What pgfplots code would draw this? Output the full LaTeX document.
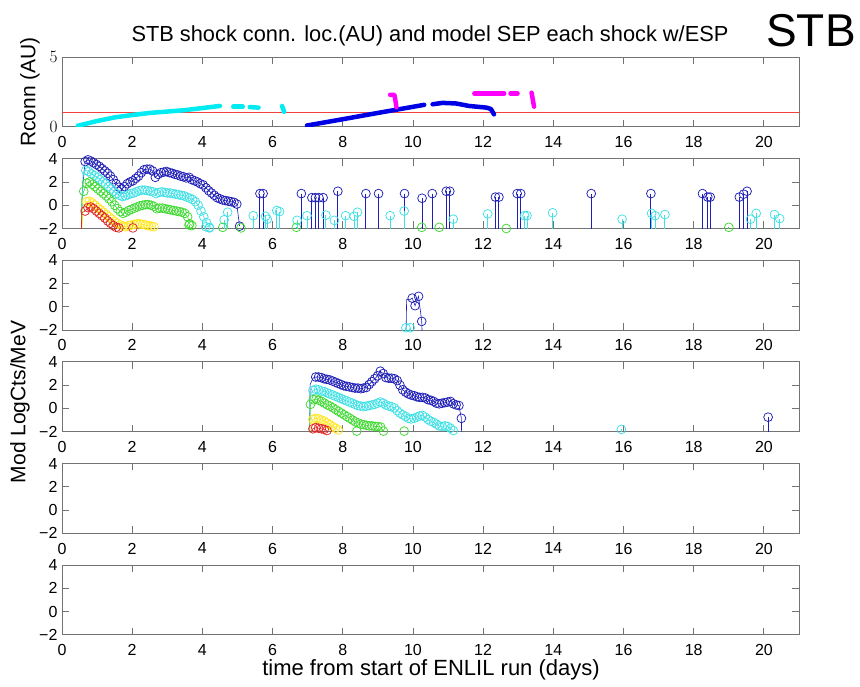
\documentclass[border=0pt]{standalone}
\usepackage{fontspec}
\setmainfont{Liberation Sans}
\usepackage{pgfplots}
\usepackage{pgfplotstable}
\pgfplotsset{compat=1.18}
\definecolor{axgray}{rgb}{0.45,0.45,0.45}
\definecolor{sblue}{rgb}{0.12,0.12,0.72}
\definecolor{scyan}{rgb}{0.25,0.88,0.90}
\definecolor{sgreen}{rgb}{0.25,0.85,0.20}
\definecolor{syellow}{rgb}{1.0,0.90,0.10}
\definecolor{sred}{rgb}{0.88,0.15,0.15}
\definecolor{lred}{rgb}{0.95,0.25,0.25}
\definecolor{rblue}{rgb}{0.0,0.0,0.90}
\definecolor{rcyan}{rgb}{0.0,0.92,0.95}
\definecolor{rmag}{rgb}{1.0,0.0,1.0}
% spike (stem) data
\pgfplotstableread{
x y
5.64 1.0
5.73 1.0
6.82 1.0
7.12 0.65
7.22 0.65
7.32 0.65
7.44 0.65
7.86 1.2
8.66 1.0
9.02 1.0
9.76 1.0
10.26 0.6
10.55 1.0
10.95 1.2
11.05 1.2
12.35 0.7
12.45 0.7
12.97 1.0
13.07 1.0
15.08 1.0
16.78 1.0
18.25 1.0
18.4 0.7
18.47 0.7
19.3 0.7
19.42 0.95
19.52 1.2
}\spkBtwo
\pgfplotstableread{
x y
4.1 -1.85
4.2 -1.95
4.62 -1.25
4.72 -0.6
5.45 -0.9
5.8 -0.95
5.85 -1.2
6.12 -0.45
6.2 -0.55
6.7 -1.3
6.98 -0.9
7.52 -0.85
7.76 -1.3
8.08 -0.9
8.32 -0.95
8.42 -0.6
9.35 -0.9
9.75 -0.5
11.15 -1.2
12.13 -0.75
13.18 -0.9
13.25 -0.9
13.98 -0.65
15.96 -1.2
16.8 -0.7
16.9 -0.9
17.18 -0.8
19.62 -1.2
19.78 -0.7
20.3 -0.8
20.45 -1.15
}\spkCtwo
\pgfplotstableread{
x y
3.62 -1.7
4.58 -1.9
5.1 -1.95
6.68 -1.9
10.25 -1.9
10.75 -1.9
12.66 -2.0
19.0 -1.9
}\spkGtwo
\pgfplotstableread{
x y
2.02 -1.95
}\spkRtwo
\pgfplotstableread{
x y
9.8 -1.8
9.92 -1.8
}\spkCthree
\pgfplotstableread{
x y
20.12 -0.75
}\spkBfour
\pgfplotstableread{
x y
15.94 -1.8
}\spkCfour
\pgfplotstableread{
x y
8.4 -1.95
9.75 -1.95
}\spkGfour
\pgfplotsset{
  panel/.style={scale only axis, width=737pt, height=69.8pt, anchor=south west,
    xmin=0, xmax=21, xtick={0,2,4,6,8,10,12,14,16,18,20},
    xticklabels={0,2,4,6,8,10,12,14,16,18,20},
    tick align=inside, major tick length=7pt,
    axis line style={draw=axgray, line width=0.9pt},
    tick style={draw=axgray, line width=0.9pt},
    ticklabel style={font=\fontsize{16}{16}\selectfont, text=black},
    xticklabel style={yshift=-6pt},
    yticklabel style={xshift=-1pt},
    clip=true},
  lpanel/.style={panel, ymin=-2, ymax=4, ytick={-2,0,2,4}, yticklabels={−2,0,2,4}},
  ser/.style={color=#1, mark=o, mark size=4.4pt, line width=0.6pt, mark options={line width=0.75pt, solid}, mark phase=2},
  stem/.style={draw=#1, line width=0.9pt, mark=none, quiver={u=0, v=-10}, -},
  spkm/.style={color=#1, only marks, mark=o, mark size=4.4pt, mark options={line width=0.75pt, draw=#1}},
  rc/.style={color=#1, line width=4.5pt, line cap=round, line join=round, mark=none}
}
\begin{document}
\begin{tikzpicture}
\path[use as bounding box] (0,0) rectangle (860pt,686pt);
\node at (430pt,650pt) {\fontsize{21.8}{22}\selectfont STB shock conn. loc.(AU) and model SEP each shock w/ESP};
\node at (811pt,655pt) {\fontsize{46}{46}\selectfont STB};
\node[rotate=90] at (30pt,594pt) {\fontsize{21}{21}\selectfont Rconn (AU)};
\node[rotate=90] at (20pt,284pt) {\fontsize{21}{21}\selectfont Mod LogCts/MeV};
\node at (431pt,16pt) {\fontsize{22}{22}\selectfont time from start of ENLIL run (days)};

% Panel 1
\begin{axis}[panel, at={(62pt,559.1pt)}, ymin=0, ymax=5, ytick={0,5}]
\addplot[draw=lred, line width=1pt, mark=none] coordinates {(0,1) (21,1)};
\addplot[rc=rcyan] coordinates {(0.45,0.08) (1.0,0.42) (1.5,0.68) (2.0,0.85) (2.5,1.0) (3.0,1.1) (3.5,1.2) (4.0,1.35) (4.5,1.5)};
\addplot[rc=rcyan] coordinates {(4.88,1.45) (5.15,1.45)};
\addplot[rc=rcyan] coordinates {(5.35,1.42) (5.6,1.38)};
\addplot[rc=rcyan] coordinates {(6.27,1.5) (6.33,1.08)};
\addplot[rc=rblue] coordinates {(6.98,0.1) (8.0,0.55) (9.0,1.0) (9.8,1.35) (10.32,1.58)};
\addplot[rc=rblue] coordinates {(10.56,1.62) (10.84,1.72) (11.22,1.68) (11.6,1.5) (12.1,1.38) (12.22,1.28) (12.31,0.9)};
\addplot[rc=rmag] coordinates {(9.35,2.3) (9.47,2.3) (9.5,1.9) (9.53,1.4)};
\addplot[rc=rmag] coordinates {(11.75,2.4) (12.6,2.4)};
\addplot[rc=rmag] coordinates {(12.78,2.4) (12.98,2.4)};
\addplot[rc=rmag] coordinates {(13.38,2.45) (13.45,1.45)};
\end{axis}

% Panel 2
\begin{axis}[lpanel, at={(62pt,457.5pt)}]
\addplot[ser=sblue] coordinates {(0.55,-3) (0.58,1.35) (0.66,3.75) (0.74,3.9) (0.82,3.8) (0.9,3.65) (0.98,3.5) (1.06,3.35) (1.14,3.15) (1.22,2.95) (1.3,2.75) (1.38,2.5) (1.46,2.2) (1.54,1.85) (1.62,1.55) (1.7,1.4) (1.78,1.6) (1.86,1.85) (1.94,2.0) (2.02,2.1) (2.1,2.3) (2.18,2.5) (2.26,2.8) (2.34,3.05) (2.42,3.1) (2.5,3.1) (2.58,2.95) (2.66,2.4) (2.74,2.65) (2.82,2.8) (2.9,2.85) (2.98,2.9) (3.06,2.8) (3.14,2.75) (3.22,2.65) (3.3,2.6) (3.38,2.5) (3.46,2.45) (3.54,2.35) (3.62,2.4) (3.7,2.2) (3.78,2.1) (3.86,2.0) (3.94,1.85) (4.02,1.75) (4.1,1.5) (4.18,1.25) (4.26,1.05) (4.34,0.85) (4.42,0.65) (4.5,0.55) (4.58,0.45) (4.66,0.4) (4.74,0.35) (4.82,0.3) (4.9,0.25) (4.98,0.1) (5.06,-1.8)};
\addplot[ser=scyan] coordinates {(0.55,-3) (0.6,2.8) (0.68,3.0) (0.76,2.9) (0.84,2.7) (0.92,2.55) (1.0,2.4) (1.08,2.2) (1.16,2.0) (1.24,1.85) (1.32,1.6) (1.4,1.4) (1.48,1.2) (1.56,1.0) (1.64,0.85) (1.72,0.75) (1.8,0.8) (1.88,0.9) (1.96,1.0) (2.04,1.05) (2.12,1.15) (2.2,1.25) (2.28,1.3) (2.36,1.3) (2.44,1.25) (2.52,1.2) (2.6,1.15) (2.68,1.0) (2.76,1.1) (2.84,1.15) (2.92,1.1) (3.0,1.05) (3.08,1.05) (3.16,1.0) (3.24,0.95) (3.32,0.9) (3.4,0.85) (3.48,0.8) (3.56,0.7) (3.64,0.6) (3.72,0.5) (3.8,0.3) (3.88,0.0) (3.96,-0.5) (4.04,-1.0) (4.12,-1.5) (4.2,-1.9)};
\addplot[ser=sgreen] coordinates {(0.55,-3) (0.56,0.6) (0.62,1.2) (0.7,1.9) (0.78,2.0) (0.86,1.8) (0.94,1.6) (1.02,1.4) (1.1,1.2) (1.18,1.0) (1.26,0.8) (1.34,0.55) (1.42,0.3) (1.5,0.0) (1.58,-0.3) (1.66,-0.55) (1.74,-0.7) (1.82,-0.6) (1.9,-0.45) (1.98,-0.35) (2.06,-0.25) (2.14,-0.15) (2.22,-0.05) (2.3,0.0) (2.38,0.05) (2.46,0.05) (2.54,0.0) (2.62,-0.1) (2.7,-0.3) (2.78,-0.25) (2.86,-0.25) (2.94,-0.3) (3.02,-0.35) (3.1,-0.4) (3.18,-0.45) (3.26,-0.5) (3.34,-0.55) (3.42,-0.6) (3.5,-0.7) (3.58,-1.0) (3.64,-1.6) (3.7,-1.75)};
\addplot[ser=syellow] coordinates {(0.55,-3) (0.6,-0.2) (0.7,0.3) (0.78,0.35) (0.86,0.2) (0.94,0.0) (1.02,-0.2) (1.1,-0.4) (1.18,-0.6) (1.26,-0.8) (1.34,-1.0) (1.42,-1.2) (1.5,-1.4) (1.58,-1.55) (1.66,-1.7) (1.74,-1.8) (1.82,-1.85) (1.9,-1.75) (1.98,-1.7) (2.06,-1.65) (2.14,-1.6) (2.22,-1.6) (2.3,-1.65) (2.38,-1.7) (2.46,-1.75) (2.54,-1.8) (2.62,-1.85)};
\addplot[ser=sred] coordinates {(0.55,-3) (0.56,-0.65) (0.66,-0.5) (0.74,-0.2) (0.82,-0.15) (0.9,-0.3) (0.98,-0.5) (1.06,-0.7) (1.14,-0.9) (1.22,-1.1) (1.3,-1.35) (1.38,-1.55) (1.46,-1.75) (1.54,-1.9) (1.62,-1.95)};
\addplot[stem=sblue] table {\spkBtwo};
\addplot[spkm=sblue] table {\spkBtwo};
\addplot[stem=scyan] table {\spkCtwo};
\addplot[spkm=scyan] table {\spkCtwo};
\addplot[stem=sgreen] table {\spkGtwo};
\addplot[spkm=sgreen] table {\spkGtwo};
\addplot[spkm=sred] table {\spkRtwo};
\end{axis}

% Panel 3
\begin{axis}[lpanel, at={(62pt,355.9pt)}]
\addplot[ser=sblue, mark indices={2,3,4,5,6,7}] coordinates {(9.8,-3) (9.82,0.65) (9.9,0.6) (9.98,0.75) (10.06,0.1) (10.16,0.9) (10.25,-1.25) (10.27,-3)};
\addplot[stem=scyan] table {\spkCthree};
\addplot[spkm=scyan] table {\spkCthree};
\end{axis}

% Panel 4
\begin{axis}[lpanel, at={(62pt,254.3pt)}]
\addplot[ser=sblue, mark indices={2,3,4,5,6,7,8,9,10,11,12,13,14,15,16,17,18,19,20,21,22,23,24,25,26,27,28,29,30,31,32,33,34,35,36,37,38,39,40,41,42,43,44,45,46,47,48,49,50,51,52,53,54,55,56}] coordinates {(7.05,-3) (7.07,2.05) (7.15,2.6) (7.23,2.7) (7.31,2.7) (7.39,2.65) (7.47,2.55) (7.55,2.5) (7.63,2.45) (7.71,2.35) (7.79,2.25) (7.87,2.15) (7.95,2.05) (8.03,1.95) (8.11,1.9) (8.19,1.85) (8.27,1.8) (8.35,1.75) (8.43,1.75) (8.51,1.7) (8.59,1.75) (8.67,1.8) (8.75,2.05) (8.83,2.3) (8.91,2.55) (8.99,2.8) (9.07,3.2) (9.15,3.0) (9.23,2.65) (9.31,2.6) (9.39,2.6) (9.47,2.55) (9.55,2.4) (9.63,2.0) (9.71,1.6) (9.79,1.4) (9.87,1.25) (9.95,1.15) (10.03,1.1) (10.11,1.0) (10.19,0.95) (10.27,0.95) (10.35,0.9) (10.43,0.75) (10.51,0.7) (10.59,0.6) (10.67,0.45) (10.75,0.4) (10.83,0.45) (10.91,0.5) (10.99,0.55) (11.07,0.6) (11.15,0.4) (11.23,0.3) (11.31,0.25) (11.38,-0.85) (11.39,-3)};
\addplot[ser=scyan] coordinates {(7.05,-3) (7.07,1.2) (7.15,1.55) (7.23,1.65) (7.31,1.6) (7.39,1.5) (7.47,1.45) (7.55,1.35) (7.63,1.25) (7.71,1.15) (7.79,1.05) (7.87,0.95) (7.95,0.85) (8.03,0.75) (8.11,0.65) (8.19,0.55) (8.27,0.45) (8.35,0.35) (8.43,0.25) (8.51,0.2) (8.59,0.15) (8.67,0.2) (8.75,0.25) (8.83,0.3) (8.91,0.35) (8.99,0.45) (9.07,0.55) (9.15,0.45) (9.23,0.3) (9.31,0.2) (9.39,0.15) (9.47,0.05) (9.55,-0.2) (9.63,-0.4) (9.71,-0.55) (9.79,-0.7) (9.87,-0.85) (9.95,-0.9) (10.03,-0.85) (10.11,-0.75) (10.19,-0.65) (10.27,-0.6) (10.35,-0.75) (10.43,-0.95) (10.51,-1.1) (10.59,-1.2) (10.67,-1.35) (10.75,-1.5) (10.83,-1.55) (10.91,-1.5) (10.99,-1.55) (11.07,-1.7) (11.15,-1.9)};
\addplot[ser=sgreen] coordinates {(7.05,-3) (7.07,-0.35) (7.08,0.35) (7.16,0.75) (7.24,0.8) (7.32,0.7) (7.4,0.6) (7.48,0.45) (7.56,0.3) (7.64,0.2) (7.72,0.05) (7.8,-0.1) (7.88,-0.25) (7.96,-0.4) (8.04,-0.55) (8.12,-0.7) (8.2,-0.85) (8.28,-1.0) (8.36,-1.15) (8.44,-1.25) (8.52,-1.35) (8.6,-1.4) (8.68,-1.45) (8.76,-1.5) (8.84,-1.5) (8.92,-1.55) (9.0,-1.55) (9.08,-1.6) (9.16,-1.95)};
\addplot[ser=syellow] coordinates {(7.05,-3) (7.07,-1.3) (7.15,-0.95) (7.23,-0.85) (7.31,-0.9) (7.39,-1.0) (7.47,-1.1) (7.55,-1.25) (7.63,-1.4) (7.71,-1.55) (7.79,-1.7) (7.87,-1.85)};
\addplot[ser=sred] coordinates {(7.05,-3) (7.07,-2.0) (7.15,-1.75) (7.23,-1.65) (7.31,-1.7) (7.39,-1.75) (7.47,-1.8) (7.55,-1.9)};
\addplot[stem=sblue] table {\spkBfour};
\addplot[spkm=sblue] table {\spkBfour};
\addplot[stem=scyan] table {\spkCfour};
\addplot[spkm=scyan] table {\spkCfour};
\addplot[spkm=sgreen] table {\spkGfour};
\end{axis}

% Panel 5
\begin{axis}[lpanel, at={(62pt,152.7pt)}]
\end{axis}

% Panel 6
\begin{axis}[lpanel, at={(62pt,51.1pt)}]
\end{axis}
\end{tikzpicture}
\end{document}
